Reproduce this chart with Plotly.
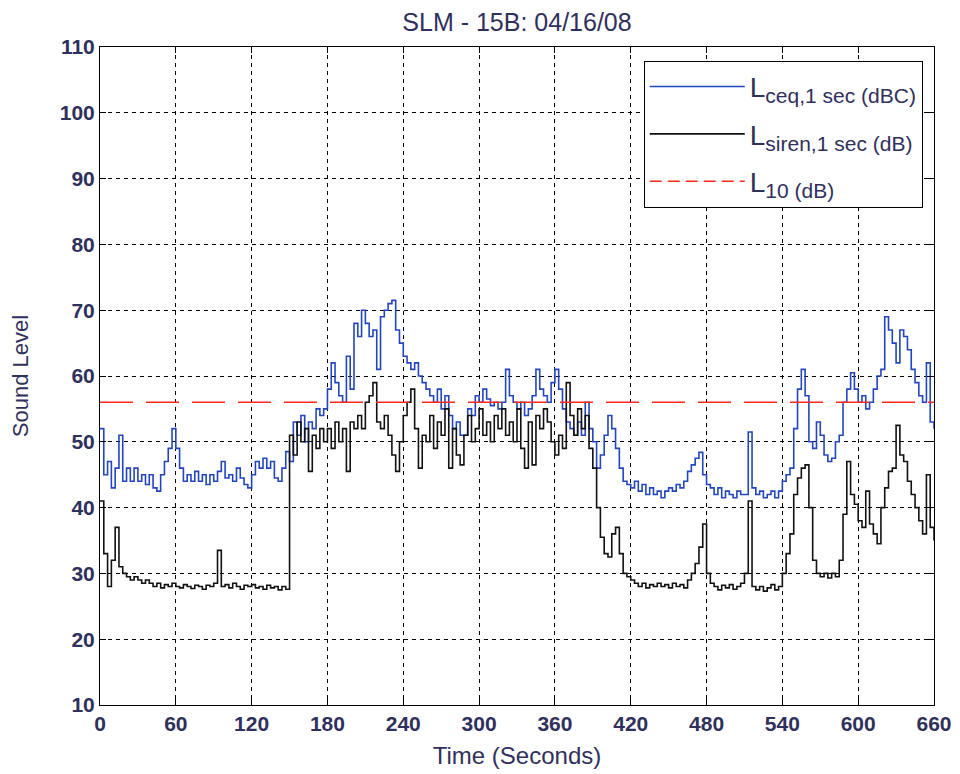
import plotly.graph_objects as go

# time axis, one value every 3 seconds
t = list(range(0, 661, 3))

# L_ceq,1 sec (dBC)
lceq = [
    52, 45, 47, 43, 46, 51, 44, 46, 44, 46, 44, 45, 43.5, 45, 43, 42.5, 45, 47, 49, 52,
    49, 46, 44, 45, 44, 45.5, 44, 45, 43.5, 45, 44, 45.5, 47, 44.5, 45, 44, 46, 44.5, 43.5, 43,
    45, 47, 46, 47.5, 46, 47, 44.5, 44, 46, 48.5, 47, 53, 51, 54, 50, 53, 52, 55, 54, 55,
    58, 62, 59, 57, 56, 63, 58, 68, 66, 70, 68, 66, 67, 61, 69, 70, 71, 71.5, 67, 65,
    63, 62, 61, 62, 60, 59, 58, 57, 56, 58, 55, 57, 54, 52, 53, 51, 51, 55, 54, 57,
    56, 58, 56.5, 55.5, 56, 55, 56, 61, 57, 56, 55, 56, 54, 55, 57, 61, 58, 57, 56, 59,
    61, 58, 55, 53, 52, 51, 53, 51, 56, 52, 50, 46, 48, 51, 54, 52, 49, 46, 44, 43.5,
    43, 44, 42.5, 43.5, 42, 43, 42, 42.5, 41.5, 42.5, 43, 42.5, 43.5, 43, 44, 45.5, 46.5, 47.5, 48.4, 45,
    43.5, 43, 42, 43, 41.5, 42.5, 42, 41.5, 42.5, 42, 42, 51.5, 43, 42, 42.5, 41.5, 42, 42.5, 41.5, 42.5,
    44, 45, 46, 52, 58, 61, 57, 50, 49, 53, 51, 48, 47, 47.5, 50, 51, 56, 58, 60.5, 58,
    56, 57, 55, 56, 58, 60, 61, 69, 67, 65, 62, 67, 66, 64, 61, 59, 57, 56, 62, 53,
    52,
]

# L_siren,1 sec (dB)
lsiren = [
    41, 33, 28, 32, 37, 31, 30, 29.5, 29, 29.5, 29, 28.5, 29, 28.5, 28, 28.5, 27.8, 28.3, 28, 28.5,
    28, 27.8, 28.3, 28, 27.7, 28.2, 28, 27.6, 28.2, 28, 28.5, 33.5, 28, 28.3, 27.8, 28.5, 28, 27.6, 28.2, 28,
    28.3, 27.8, 28, 27.6, 28.2, 27.8, 28, 27.5, 28, 27.6, 51, 48, 53, 50, 52, 45.5, 51, 49, 52, 50,
    52, 49, 53, 50, 52, 45.5, 53, 52, 54, 52, 56, 57, 59, 53, 52, 54, 51, 48, 45.5, 50,
    54, 56, 58, 52, 46, 51, 50, 54, 49, 53, 51, 55, 46, 52, 48, 46.5, 51, 54, 50, 52,
    55, 51, 53, 50, 54, 52, 55, 51, 53, 50, 55, 49, 46, 53, 46.5, 54, 52, 55, 53, 50,
    48, 51, 49, 59, 54, 51, 55, 52, 54, 49, 46, 40, 35.5, 33, 32.5, 36, 37, 33, 30, 29.5,
    29, 28.5, 28, 28.5, 27.8, 28.3, 28, 28.5, 28, 28.3, 27.8, 28.5, 28, 28.3, 27.8, 29, 30, 31.5, 34, 37.5,
    30, 28.5, 28, 27.5, 28.2, 27.8, 28.3, 27.6, 28, 28.5, 30, 41, 28, 27.5, 28, 27.3, 27.8, 28.3, 27.5, 28,
    30, 33, 36, 42, 44.5, 46, 46.5, 40, 32, 30, 29.5, 30, 29.3, 30, 29.5, 32, 39, 47, 42, 40.5,
    38, 37, 42.5, 37.5, 36, 34.5, 40, 43, 45.5, 46, 52.5, 48, 47, 44, 42, 40, 38, 36, 45, 37,
    35,
]

l10 = 56
x_ticks = list(range(0, 661, 60))
y_ticks = list(range(10, 111, 10))

sub = "<sub><span style='font-size:21px'>{}</span></sub>"

fig = go.Figure()
fig.add_trace(go.Scatter(x=t, y=lceq, mode="lines", name="L" + sub.format("ceq,1 sec (dBC)"),
                         legendgroup="a",
                         line=dict(color="#2346c0", width=1.6, shape="hv")))
fig.add_trace(go.Scatter(x=t, y=lsiren, mode="lines", name="L" + sub.format("siren,1 sec (dB)"),
                         legendgroup="b",
                         line=dict(color="#111111", width=1.6, shape="hv")))
fig.add_trace(go.Scatter(x=[0, 660], y=[l10, l10], mode="lines", showlegend=False,
                         legendgroup="c",
                         line=dict(color="#ff2a1a", width=1.5, dash="33px,13px")))
# legend entry for L10, with a shorter dash so the gap shows in the small legend symbol
fig.add_trace(go.Scatter(x=[None], y=[None], mode="lines", name="L" + sub.format("10 (dB)"),
                         legendgroup="c",
                         line=dict(color="#ff2a1a", width=1.5, dash="12px,6px")))

axis_common = dict(
    showline=True, linecolor="black", linewidth=1, mirror="ticks",
    ticks="inside", ticklen=6, tickcolor="black",
    showgrid=True, gridcolor="black", gridwidth=1, griddash="4px,4px",
    zeroline=False, automargin=False,
    tickfont=dict(family="Liberation Sans", size=21, color="#30305c", weight="bold"),
)

fig.update_xaxes(range=[0, 660], tickvals=x_ticks, **axis_common,
                 title=dict(text="Time (Seconds)", standoff=12,
                            font=dict(family="Liberation Sans", size=24, color="#30305c")))
fig.update_yaxes(range=[10, 110], tickvals=y_ticks, **axis_common,
                 title=dict(text="Sound Level", standoff=26,
                            font=dict(family="Liberation Sans", size=22, color="#30305c")))

# the page shows the figure 8px in from the top-left corner
fig.update_layout(
    width=952, height=766,
    margin=dict(l=92, r=26, t=39, b=69),
    paper_bgcolor="white", plot_bgcolor="white",
    title=dict(text="SLM - 15B: 04/16/08", xref="paper", x=0.5, xanchor="center",
               y=0.982, yanchor="middle",
               font=dict(family="Liberation Sans", size=25, color="#30305c")),
    legend=dict(x=0.652, y=0.979, xanchor="left", yanchor="top",
                bgcolor="white", bordercolor="black", borderwidth=1,
                font=dict(family="Liberation Sans", size=28, color="#30305c"),
                tracegroupgap=8, itemwidth=95),
    showlegend=True,
)

fig.write_html("out.html")
